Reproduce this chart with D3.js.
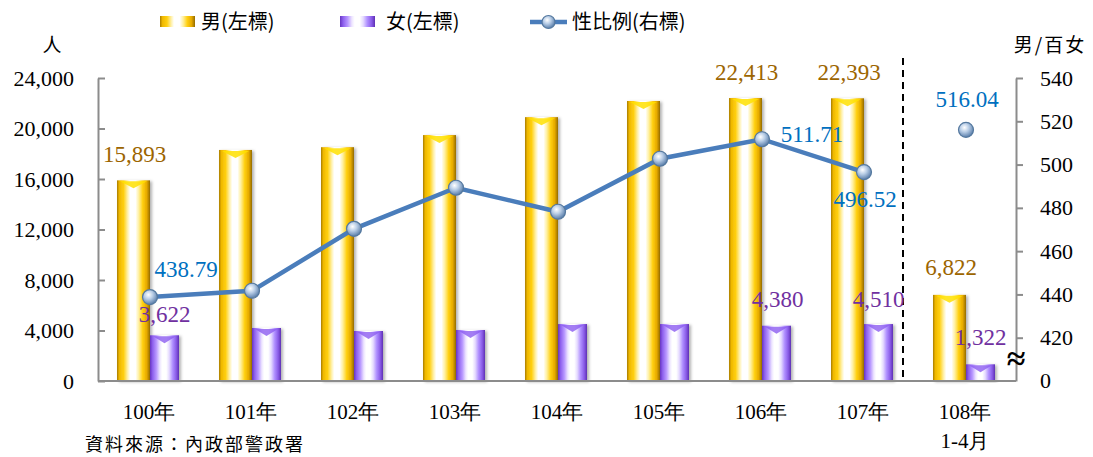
<!DOCTYPE html>
<html>
<head>
<meta charset="utf-8">
<script src="https://cdn.jsdelivr.net/npm/d3@7"></script>
<style>
  body{margin:0;background:#fff;}
  svg{display:block;}
  text{font-family:"Liberation Serif","Times New Roman",serif;}
  .cjk{font-family:"Noto Sans CJK TC","Noto Sans CJK SC",serif;}
</style>
</head>
<body>
<svg id="svg" width="1093" height="457"></svg>
<script>

var years = ["100年","101年","102年","103年","104年","105年","106年","107年","108年"];
var male = [15893, 18300, 18520, 19480, 20900, 22180, 22413, 22393, 6822];
var female = [3622, 4200, 3960, 4040, 4510, 4510, 4380, 4510, 1322];
var ratio = [438.79, 441.7, 470.3, 489.3, 478.2, 502.7, 511.71, 496.52, 516.04];
var leftTicks = [0, 4000, 8000, 12000, 16000, 20000, 24000];
var rightTicks = [0, 420, 440, 460, 480, 500, 520, 540];

// which bars / points carry a value label
var maleLabels = [0, 6, 7, 8];
var femaleLabels = [0, 6, 7, 8];
var ratioLabels = [0, 6, 7, 8];

var svg = d3.select("#svg");
var padding = {top: 78, right: 77, bottom: 76, left: 98};
var W = 1093 - padding.left - padding.right;
var H = 457 - padding.top - padding.bottom;

var x = d3.scaleBand().domain(years).range([0, W]).padding(0);
var yL = d3.scaleLinear().domain([0, 24000]).range([H, 0]);
// right axis has a break between 0 and 420
var yR = d3.scaleLinear().domain([0, 420, 540]).range([H, H - H/7, 0]);

var defs = svg.append("defs");
function barGrad(id, stops){
  var g = defs.append("linearGradient").attr("id", id)
    .attr("x1","0%").attr("x2","100%").attr("y1","0%").attr("y2","0%");
  stops.forEach(function(s){ g.append("stop").attr("offset", s[0]).attr("stop-color", s[1]); });
}
barGrad("gMale", [["0%","#a87c00"],["7%","#efb800"],["20%","#ffcf10"],["32%","#fff0a8"],["40%","#ffffff"],["56%","#ffffff"],["66%","#fff0a0"],["78%","#ffcf10"],["90%","#e6aa00"],["100%","#946c00"]]);
barGrad("gFemale", [["0%","#6636c0"],["9%","#8e60ee"],["22%","#b898ff"],["34%","#eee6ff"],["42%","#ffffff"],["56%","#ffffff"],["66%","#e6dcff"],["78%","#b090ff"],["90%","#8a5ce8"],["100%","#5e30b4"]]);
var rg = defs.append("radialGradient").attr("id","gDot").attr("cx","40%").attr("cy","35%").attr("r","65%");
rg.append("stop").attr("offset","0%").attr("stop-color","#ffffff");
rg.append("stop").attr("offset","45%").attr("stop-color","#b8cde6");
rg.append("stop").attr("offset","100%").attr("stop-color","#5a7eaa");
var sh = defs.append("filter").attr("id","shadow").attr("x","-30%").attr("y","-10%").attr("width","160%").attr("height","120%");
sh.append("feDropShadow").attr("dx", 2).attr("dy", 1).attr("stdDeviation", 1.5)
  .attr("flood-color", "#000").attr("flood-opacity", 0.3);

var g = svg.append("g").attr("transform", "translate(" + padding.left + "," + padding.top + ")");

// bars
var mw = 33, fw = 29;
function cx(i){ return x(years[i]) + x.bandwidth()/2 + 1; }

g.selectAll(".male").data(male).enter().append("rect")
  .attr("class","male")
  .attr("x", (d,i) => cx(i) - mw)
  .attr("y", d => yL(d))
  .attr("width", mw)
  .attr("height", d => H - yL(d))
  .attr("fill", "url(#gMale)")
  .attr("filter", "url(#shadow)");
g.selectAll(".maleTop").data(male).enter().append("path")
  .attr("d", (d,i) => {
    var l = cx(i) - mw + 3, r = cx(i) - 3, t = yL(d) + 1;
    return "M" + l + "," + t + "L" + r + "," + t + "L" + (l + (r-l)/2) + "," + (t + 7) + "Z";
  })
  .attr("fill", "#ffe000").attr("opacity", 0.85);

g.selectAll(".female").data(female).enter().append("rect")
  .attr("class","female")
  .attr("x", (d,i) => cx(i))
  .attr("y", d => yL(d))
  .attr("width", fw)
  .attr("height", d => H - yL(d))
  .attr("fill", "url(#gFemale)")
  .attr("filter", "url(#shadow)");
g.selectAll(".femaleTop").data(female).enter().append("path")
  .attr("d", (d,i) => {
    var l = cx(i) + 3, r = cx(i) + fw - 3, t = yL(d) + 1;
    return "M" + l + "," + t + "L" + r + "," + t + "L" + (l + (r-l)/2) + "," + (t + 7) + "Z";
  })
  .attr("fill", "#8c5cf0").attr("opacity", 0.8);

// axes
var axL = g.append("g")
  .call(d3.axisLeft(yL).tickValues(leftTicks).tickSizeInner(-7).tickSizeOuter(0).tickPadding(24).tickFormat(d3.format(",")));
var axR = g.append("g").attr("transform","translate(" + W + ",0)")
  .call(d3.axisRight(yR).tickValues(rightTicks.slice(1)).tickSizeInner(7).tickSizeOuter(0).tickPadding(17));
axR.append("text").attr("x", 24).attr("y", yR(0)).attr("dy","0.32em")
  .attr("fill","#000").attr("text-anchor","start").text("0");
[axL, axR].forEach(function(a){
  a.selectAll(".domain, line").attr("stroke", "#8c8c8c").attr("stroke-width", 2);
  a.selectAll("text").attr("font-size", 22).attr("fill", "#000")
    .attr("font-family", "'Liberation Serif', serif");
});
g.append("line").attr("x1", 0).attr("x2", W).attr("y1", H).attr("y2", H)
  .attr("stroke", "#8c8c8c").attr("stroke-width", 2);

// break mark on right axis
g.append("text").attr("x", W).attr("y", yR(210) + 11)
  .attr("text-anchor","middle").attr("font-size", 34).attr("font-weight","bold")
  .attr("font-family","'DejaVu Sans', sans-serif").text("≈");

// dashed separator before 108
g.append("line")
  .attr("x1", x(years[8]) - 11).attr("x2", x(years[8]) - 11)
  .attr("y1", -20).attr("y2", H)
  .attr("stroke", "#000").attr("stroke-width", 2).attr("stroke-dasharray", "7,5");

// ratio line (100-107), 108 stands alone
var line = d3.line().x((d,i) => cx(i)).y(d => yR(d));
g.append("path").datum(ratio.slice(0, 8))
  .attr("d", line).attr("fill","none").attr("stroke","#4a7dbb").attr("stroke-width", 4.5);
g.selectAll(".dot").data(ratio).enter().append("circle")
  .attr("cx", (d,i) => cx(i))
  .attr("cy", d => yR(d))
  .attr("r", 7.5)
  .attr("fill","url(#gDot)").attr("stroke","#55799f").attr("stroke-width", 1.2);

// data labels
var mOff = {0:[1,-18], 6:[1,-18], 7:[1.5,-18], 8:[1.5,-20]};
g.selectAll(".mlab").data(maleLabels).enter().append("text")
  .attr("x", i => cx(i) - mw/2 + mOff[i][0])
  .attr("y", i => yL(male[i]) + mOff[i][1])
  .attr("text-anchor","middle").attr("font-size", 23).attr("fill","#9c6500")
  .text(i => d3.format(",")(male[i]));

var fOff = {0:[0,-13], 6:[1,-19], 7:[0,-17], 8:[0,-19]};
g.selectAll(".flab").data(femaleLabels).enter().append("text")
  .attr("x", i => cx(i) + fw/2 + fOff[i][0])
  .attr("y", i => yL(female[i]) + fOff[i][1])
  .attr("text-anchor","middle").attr("font-size", 23).attr("fill","#7030a0")
  .text(i => d3.format(",")(female[i]));

var rOff = {0:[36,-20], 6:[50,3], 7:[1,35], 8:[1,-23]};
g.selectAll(".rlab").data(ratioLabels).enter().append("text")
  .attr("x", i => cx(i) + rOff[i][0])
  .attr("y", i => yR(ratio[i]) + rOff[i][1])
  .attr("text-anchor","middle").attr("font-size", 23).attr("fill","#0070c0")
  .text(i => ratio[i].toFixed(2));

// category labels
g.selectAll(".cat").data(years).enter().append("text")
  .attr("x", d => x(d) + x.bandwidth()/2)
  .attr("y", H + 38)
  .attr("text-anchor","middle").attr("font-size", 21).attr("fill","#000")
  .attr("font-family", "'Liberation Serif','Noto Sans CJK TC',serif")
  .text(d => d);
g.append("text").attr("x", x(years[8]) + x.bandwidth()/2).attr("y", H + 67)
  .attr("text-anchor","middle").attr("font-size", 21).attr("fill","#000")
  .attr("font-family", "'Liberation Serif','Noto Sans CJK TC',serif")
  .text("1-4月");

// units
svg.append("text").attr("class","cjk").attr("x", 52).attr("y", 52)
  .attr("text-anchor","middle").attr("font-size", 19).text("人");
svg.append("text").attr("class","cjk").attr("x", 1050).attr("y", 52)
  .attr("text-anchor","middle").attr("font-size", 19).attr("letter-spacing", 2).text("男/百女");

// source
svg.append("text").attr("class","cjk").attr("x", 85).attr("y", 451)
  .attr("font-size", 18).attr("letter-spacing", 2).text("資料來源：內政部警政署");

// legend
var leg = svg.append("g").attr("transform","translate(0,22)");
leg.append("rect").attr("x", 160).attr("y", -6).attr("width", 35).attr("height", 11).attr("fill","url(#gMale)");
leg.append("text").attr("class","cjk").attr("x", 201).attr("y", 7).attr("font-size", 20).text("男(左標)");
leg.append("rect").attr("x", 340).attr("y", -6).attr("width", 35).attr("height", 11).attr("fill","url(#gFemale)");
leg.append("text").attr("class","cjk").attr("x", 386).attr("y", 7).attr("font-size", 20).text("女(左標)");
leg.append("line").attr("x1", 530).attr("x2", 567).attr("y1", 0).attr("y2", 0)
  .attr("stroke","#4a7dbb").attr("stroke-width", 4.5);
leg.append("circle").attr("cx", 548.5).attr("cy", 0).attr("r", 6.5)
  .attr("fill","url(#gDot)").attr("stroke","#55799f").attr("stroke-width", 1.2);
leg.append("text").attr("class","cjk").attr("x", 572).attr("y", 7).attr("font-size", 20).text("性比例(右標)");

</script>
</body>
</html>
